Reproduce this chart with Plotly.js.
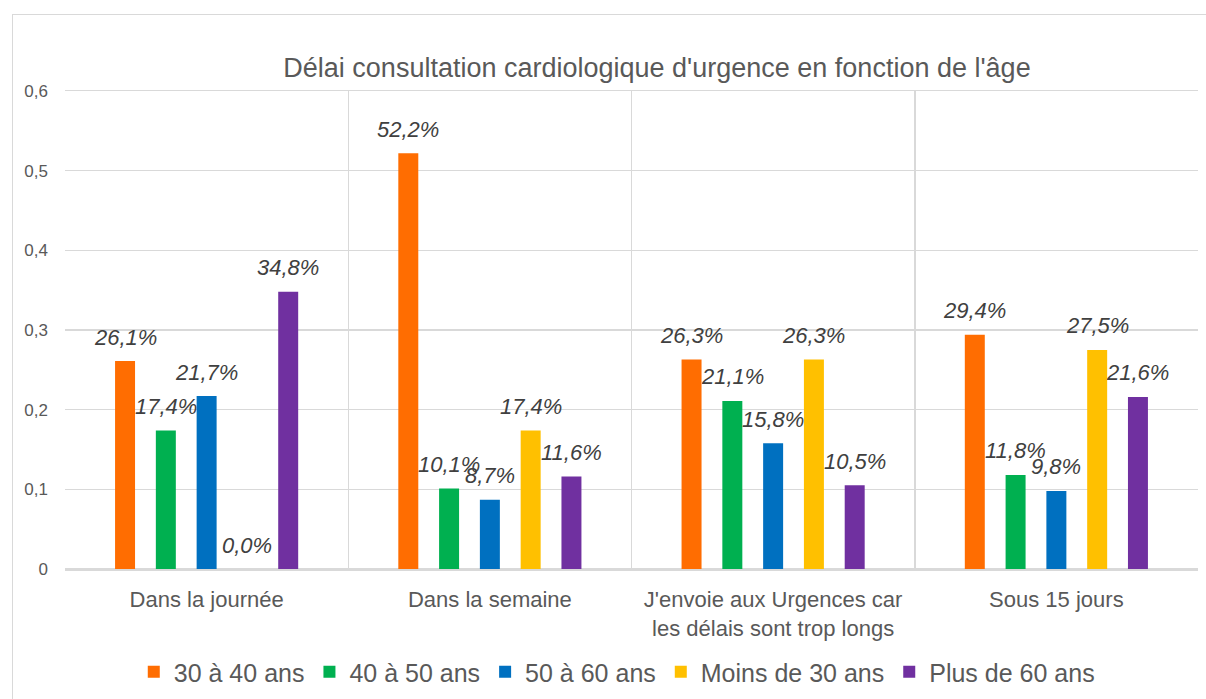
<!DOCTYPE html>
<html><head><meta charset="utf-8">
<script src="https://cdn.plot.ly/plotly-3.0.1.min.js"></script>
<style>
body{margin:0;padding:0;background:#fff;overflow:hidden;}
#frame{position:absolute;left:12px;top:14px;width:1400px;height:900px;border:1px solid #d9d9d9;}
#chart{position:absolute;left:0;top:0;width:1206px;height:699px;}
</style></head>
<body>
<div id="frame"></div>
<div id="chart"></div>
<script>
const categories = ["Dans la journée", "Dans la semaine", "J'envoie aux Urgences car<br>les délais sont trop longs", "Sous 15 jours"];
const seriesNames = ["30 à 40 ans", "40 à 50 ans", "50 à 60 ans", "Moins de 30 ans", "Plus de 60 ans"];
const s30a40 = [0.261, 0.522, 0.263, 0.294];
const s40a50 = [0.174, 0.101, 0.211, 0.118];
const s50a60 = [0.217, 0.087, 0.158, 0.098];
const sMoins30 = [0.000, 0.174, 0.263, 0.275];
const sPlus60 = [0.348, 0.116, 0.105, 0.216];
const colors = ["#FF6D01", "#00B050", "#0070C0", "#FFC000", "#7030A0"];

const allSeries = [s30a40, s40a50, s50a60, sMoins30, sPlus60];
const fmt = v => (v*100).toFixed(1).replace('.', ',') + '%';

const W = 1206, H = 699;
const margin = {l: 65, r: 8, t: 91, b: 130};
const bargap = 0.28;
const nSeries = allSeries.length;
const slotPx = (W - margin.l - margin.r) / categories.length * (1 - bargap) / nSeries;

const traces = allSeries.map((vals, i) => ({
  type: 'bar',
  name: seriesNames[i],
  x: categories,
  y: vals,
  marker: {color: colors[i], line: {width: 0}},
  hoverinfo: 'none'
}));

// data labels above each bar, centred on it
const annotations = [];
allSeries.forEach((vals, i) => {
  vals.forEach((v, j) => {
    annotations.push({
      x: categories[j], y: v, xref: 'x', yref: 'y',
      text: '<i>' + fmt(v) + '</i>',
      showarrow: false,
      xanchor: 'center', yanchor: 'middle',
      xshift: (i - (nSeries - 1) / 2) * slotPx,
      yshift: 24,
      font: {family: 'Liberation Sans, Arial, sans-serif', size: 22, color: '#404040'}
    });
  });
});

const layout = {
  width: W, height: H,
  margin: margin,
  paper_bgcolor: 'rgba(0,0,0,0)',
  plot_bgcolor: '#fff',
  separators: ', ',
  font: {family: 'Liberation Sans, Arial, sans-serif', color: '#595959'},
  title: {
    text: "Délai consultation cardiologique d'urgence en fonction de l'âge",
    font: {size: 27, color: '#595959'},
    x: 0.5225, xref: 'paper', xanchor: 'center',
    y: 1 - 68/699, yref: 'container', yanchor: 'middle'
  },
  barmode: 'group',
  bargap: bargap,
  bargroupgap: 0.51,
  annotations: annotations,
  xaxis: {
    type: 'category',
    tickson: 'boundaries',
    showgrid: true, gridcolor: '#d9d9d9', gridwidth: 1.5,
    showline: true, linecolor: '#d9d9d9', linewidth: 1.5, mirror: true,
    ticks: '', ticklabelstandoff: 10,
    tickfont: {size: 22, color: '#595959'},
    fixedrange: true
  },
  yaxis: {
    range: [0, 0.6],
    dtick: 0.1,
    tickformat: '~r',
    showgrid: true, gridcolor: '#d9d9d9', gridwidth: 1.5,
    zeroline: true, zerolinecolor: '#d9d9d9', zerolinewidth: 1.5,
    showline: false,
    ticks: '', ticklabelstandoff: 16,
    tickfont: {size: 17, color: '#595959'},
    fixedrange: true
  },
  showlegend: true,
  legend: {
    orientation: 'h',
    x: 0.487, xanchor: 'center', xref: 'paper',
    y: 1 - 672/699, yref: 'container', yanchor: 'middle',
    font: {size: 25, color: '#595959'},
    itemwidth: 30,
    traceorder: 'normal'
  }
};

Plotly.newPlot('chart', traces, layout, {displayModeBar: false, staticPlot: true});
</script>
</body></html>
